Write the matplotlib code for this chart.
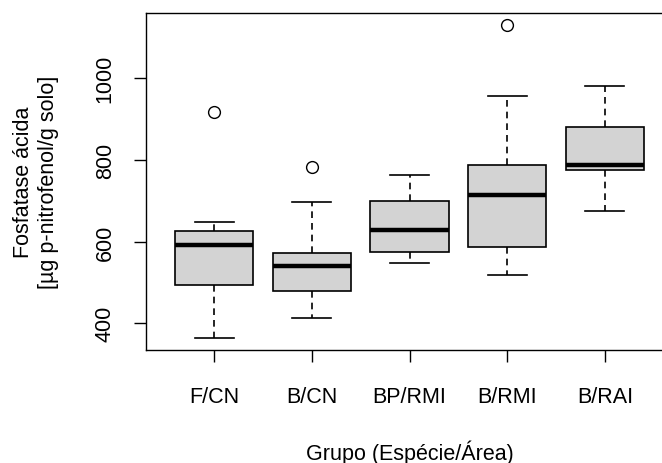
import matplotlib
matplotlib.use("Agg")
import matplotlib.pyplot as plt

plt.rcParams['font.family'] = ['Liberation Sans', 'DejaVu Sans']

# groups and five-number summaries
grupos = ["F/CN", "B/CN", "BP/RMI", "B/RMI", "B/RAI"]
whisker_low = [365, 414, 547, 518, 676]
q1 = [495, 480, 575, 587, 775]
mediana = [592, 540, 629, 714, 787]
q3 = [625, 571, 699, 788, 880]
whisker_high = [649, 696, 762, 957, 982]
outliers = [[918], [782], [], [1130], []]

stats = []
for i, g in enumerate(grupos):
    stats.append(dict(label=g, whislo=whisker_low[i], q1=q1[i], med=mediana[i],
                      q3=q3[i], whishi=whisker_high[i], fliers=outliers[i]))

fig = plt.figure(figsize=(6.62, 4.64), dpi=100)
ax = fig.add_axes([0.2201, 0.2433, 0.797, 0.7274])

ax.bxp(stats, positions=range(1, len(grupos) + 1), widths=0.8, patch_artist=True,
       boxprops=dict(facecolor='#d3d3d3', edgecolor='black', linewidth=1.2),
       medianprops=dict(color='black', linewidth=3.2, solid_capstyle='butt'),
       whiskerprops=dict(color='black', linewidth=1.2, linestyle=(0, (4, 3))),
       capprops=dict(color='black', linewidth=1.2),
       capwidths=0.4,
       flierprops=dict(marker='o', markerfacecolor='none', markeredgecolor='black',
                       markersize=8.5, markeredgewidth=1.0))

# R style ranges: 4% extension
ymin = min(whisker_low)
ymax = max(max(o) if o else 0 for o in outliers)
ext = (ymax - ymin) * 0.04
ax.set_ylim(ymin - ext, ymax + ext)
ax.set_xlim(0.3, 5.7)

ax.set_yticks([400, 600, 800, 1000])
ax.set_yticklabels(["400", "600", "800", "1000"], rotation=90, va='center')
ax.set_xticks(range(1, len(grupos) + 1))
ax.set_xticklabels(grupos)

ax.tick_params(axis='both', labelsize=15.5, length=8.5, width=1.0, direction='out')
ax.tick_params(axis='y', pad=13)
ax.tick_params(axis='x', pad=17)

for s in ax.spines.values():
    s.set_linewidth(1.0)
ax.spines['right'].set_visible(False)

ax.set_xlabel("Grupo (Espécie/Área)", fontsize=15.5, labelpad=24)
ax.set_ylabel("Fosfatase ácida\n[µg p-nitrofenol/g solo]", fontsize=15.5,
              labelpad=26, linespacing=1.25)

fig.savefig("out.png", dpi=100)
